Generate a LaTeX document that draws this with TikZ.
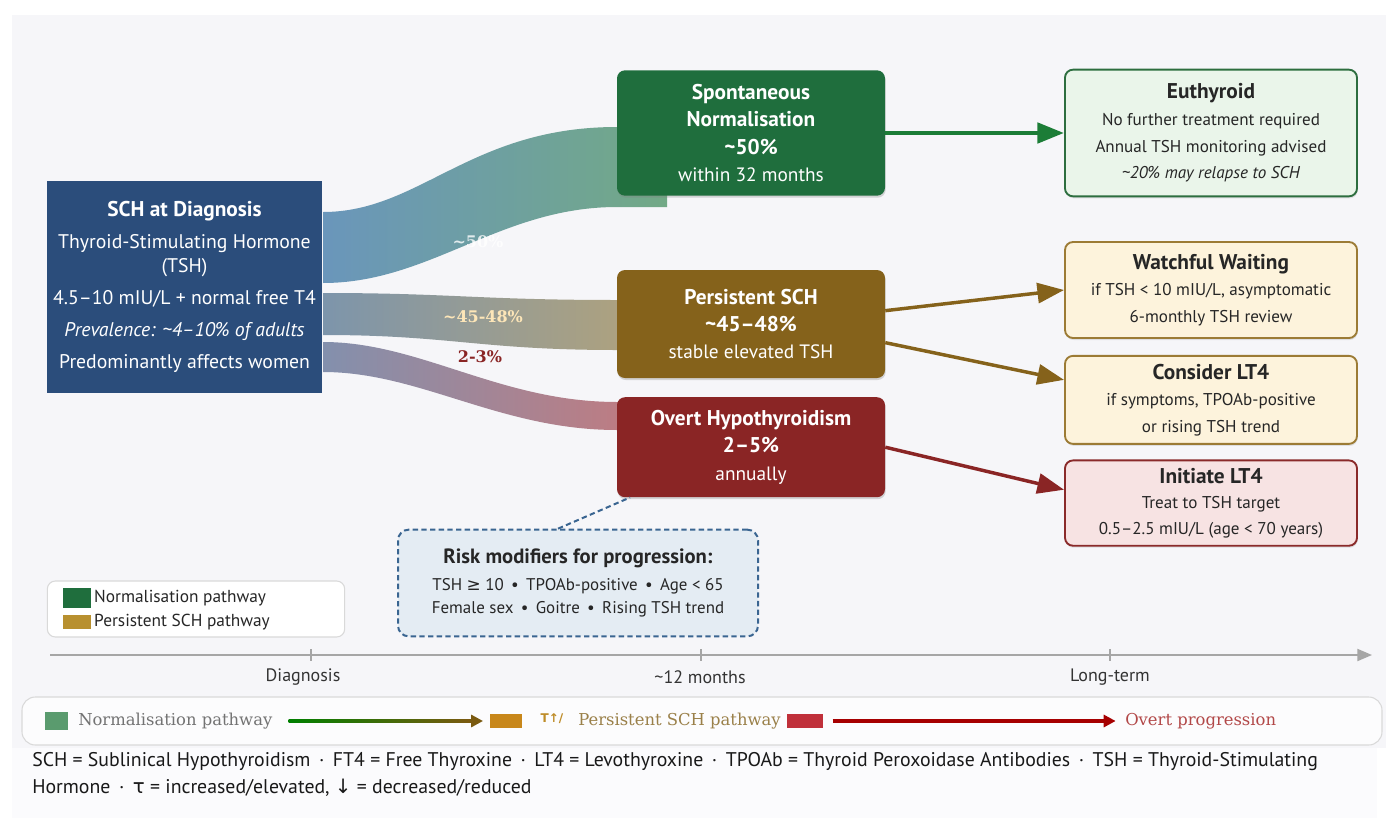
\documentclass[tikz,border=0pt]{standalone}
\usepackage{fontspec}
\setmainfont{PT Sans}
\newfontfamily\serifface{DejaVu Serif}
\newfontfamily\symface{DejaVu Sans}
\usepackage{xcolor}
\usetikzlibrary{arrows.meta, positioning, shadows, calc}

\definecolor{canvas}{HTML}{F6F6F9}
\definecolor{schblue}{HTML}{2B4D7B}
\definecolor{normgreen}{HTML}{1F6E3D}
\definecolor{persbrown}{HTML}{85621B}
\definecolor{overtred}{HTML}{8A2525}
\definecolor{euthfill}{HTML}{EAF5EA}
\definecolor{euthline}{HTML}{2D6E3F}
\definecolor{waitfill}{HTML}{FDF3DC}
\definecolor{waitline}{HTML}{9C7B35}
\definecolor{lt4fill}{HTML}{F7E3E3}
\definecolor{lt4line}{HTML}{8A2A2A}
\definecolor{riskfill}{HTML}{E4ECF3}
\definecolor{riskline}{HTML}{3A6591}
\definecolor{flowblue}{HTML}{6A96BB}
\definecolor{flowgreen}{HTML}{72A986}
\definecolor{flowgrey}{HTML}{7D95AB}
\definecolor{flowkhaki}{HTML}{B3A37A}
\definecolor{flowslate}{HTML}{8390AD}
\definecolor{flowrose}{HTML}{C47A7E}
\definecolor{leggold}{HTML}{B8902F}
\definecolor{keygreen}{HTML}{5A9B6E}
\definecolor{keygold}{HTML}{C8871A}
\definecolor{keyglyph}{HTML}{BE8C28}
\definecolor{keykhaki}{HTML}{9A8049}
\definecolor{keyred}{HTML}{C0303A}
\definecolor{keyredtx}{HTML}{B24848}
\definecolor{keybrown}{HTML}{7A5A10}

\begin{document}
\begin{tikzpicture}[x=0.75pt, y=-0.75pt,
    stage/.style={rectangle, rounded corners=6pt, fill=#1, text=white, minimum width=201pt, align=center,
        font=\fontsize{16}{20.5}\selectfont\bfseries, drop shadow={shadow xshift=0.5pt, shadow yshift=-1.5pt, opacity=0.3}},
    outcome/.style 2 args={rectangle, rounded corners=6pt, draw=#1, line width=1.4pt, fill=#2, minimum width=219pt,
        align=center, text=black!85, font=\fontsize{12.8}{20}\selectfont, drop shadow={shadow xshift=0.5pt, shadow yshift=-1.5pt, opacity=0.2}},
    pathway/.style={draw=#1, line width=2.6pt, -{Triangle[length=20pt,width=15pt]}},
    flowlabel/.style={font=\serifface\bfseries\fontsize{12}{14}\selectfont, text=#1},
    swatch/.style={rectangle, fill=#1, inner sep=0pt},
    keytext/.style={font=\serifface\fontsize{12.3}{14}\selectfont, text=#1, inner sep=0pt, anchor=west}
]
% background
\fill[white] (0,0) rectangle (1386,818);
\fill[canvas] (12,15) rectangle (1386,748);
\fill[white!60!canvas] (12,748) rectangle (1377,818);

% flows out of the diagnosis box
\shade[left color=flowblue, right color=flowgreen] (323,212) .. controls (420,212) and (470,127) .. (617,127) -- (667,127) -- (667,207) -- (617,207) .. controls (500,207) and (430,283) .. (323,283) -- cycle;
\shade[left color=flowgrey, right color=flowkhaki] (323,293) .. controls (450,293) and (480,300) .. (617,300) -- (660,300) -- (660,350) -- (617,350) .. controls (480,350) and (450,335) .. (323,335) -- cycle;
\shade[left color=flowslate, right color=flowrose] (323,342) .. controls (420,342) and (500,402) .. (617,402) -- (660,402) -- (660,430) -- (617,430) .. controls (500,430) and (420,372) .. (323,372) -- cycle;
\node[flowlabel=white, text opacity=0.8] (f50) at (478,242) {\textasciitilde50\%};
\node[flowlabel=yellow!30!orange!25] (f45) at (483,317) {\textasciitilde45-48\%};
\node[flowlabel=overtred] (f2) at (480,357) {2-3\%};

% start box
\node[rectangle, fill=schblue, text=white, minimum width=206pt, minimum height=159pt, align=center,
    font=\fontsize{14.8}{18.5}\selectfont] (sch) at (184.5,287)
    {{\fontsize{16}{18.5}\selectfont\bfseries SCH at Diagnosis}\\[5.5pt]
     Thyroid-Stimulating Hormone\\(TSH)\\[5.5pt]
     4.5–10 mIU/L + normal free T4\\[5.5pt]
     \textit{Prevalence: \textasciitilde4–10\% of adults}\\[5.5pt]
     Predominantly affects women};

% outcomes at about 12 months
\node[stage=normgreen, minimum height=94pt] (spont) at (751,133)
    {Spontaneous\\Normalisation\\\textasciitilde50\%\\{\fontsize{14.5}{20.5}\selectfont\mdseries within 32 months}};
\node[stage=persbrown, minimum height=81pt] (pers) at (751,324)
    {Persistent SCH\\\textasciitilde45–48\%\\{\fontsize{14.5}{20.5}\selectfont\mdseries stable elevated TSH}};
\node[stage=overtred, minimum height=75pt, below=14pt of pers] (overt)
    {Overt Hypothyroidism\\2–5\%\\{\fontsize{14.5}{20.5}\selectfont\mdseries annually}};

% long-term management
\node[outcome={euthline}{euthfill}, minimum height=95pt] (euth) at (1211,133)
    {{\fontsize{16}{20}\selectfont\bfseries Euthyroid}\\No further treatment required\\Annual TSH monitoring advised\\\textit{\textasciitilde20\% may relapse to SCH}};
\node[outcome={waitline}{waitfill}, minimum height=72pt] (watch) at (1211,290)
    {{\fontsize{16}{20}\selectfont\bfseries Watchful Waiting}\\if TSH < 10 mIU/L, asymptomatic\\6-monthly TSH review};
\node[outcome={waitline}{waitfill}, minimum height=66pt, below=12pt of watch] (cons)
    {{\fontsize{16}{19}\selectfont\bfseries Consider LT4}\\if symptoms, TPOAb-positive\\or rising TSH trend};
\node[outcome={lt4line}{lt4fill}, minimum height=64pt, below=11pt of cons, font=\fontsize{12.8}{19}\selectfont] (init)
    {{\fontsize{16}{19}\selectfont\bfseries Initiate LT4}\\Treat to TSH target\\0.5–2.5 mIU/L (age < 70 years)};

\draw[pathway=normgreen!90!green, line width=3.6pt] (spont) -- (euth);
\draw[pathway=persbrown] ([yshift=10pt]pers.east) -- (watch.west);
\draw[pathway=persbrown] ([yshift=-14pt]pers.east) -- ([yshift=15pt]cons.west);
\draw[pathway=overtred] (overt.east) -- ([yshift=10pt]init.west);

% risk modifiers
\node[draw=riskline, line width=1.5pt, dash pattern=on 4pt off 2.5pt, fill=riskfill, rounded corners=8pt,
    minimum width=270pt, minimum height=80pt, align=center, text=black!85, font=\fontsize{12.7}{17}\selectfont] (risk) at (578,583)
    {{\fontsize{15.5}{17}\selectfont\bfseries Risk modifiers for progression:}\\[3pt]
     TSH {\symface ≥} 10 \,•\, TPOAb-positive \,•\, Age < 65\\
     Female sex \,•\, Goitre \,•\, Rising TSH trend};
\draw[riskline, line width=1.5pt, dash pattern=on 4pt off 2.5pt] ([xshift=-15pt]risk.north) -- ([xshift=10pt]overt.south west);

% small legend
\node[draw=black!15, line width=0.8pt, fill=white, rounded corners=6pt, minimum width=223pt, minimum height=42pt] (leg) at (196,609) {};
\node[swatch=normgreen, minimum width=21pt, minimum height=15pt] (lgreen) at (77,598) {};
\node[right=2pt of lgreen, inner sep=0pt, font=\fontsize{13}{14}\selectfont, text=black!85] (lgreentx) {Normalisation pathway};
\node[swatch=leggold, minimum width=21pt, minimum height=10.5pt] (lgold) at (77,622) {};
\node[right=2pt of lgold, inner sep=0pt, font=\fontsize{13}{14}\selectfont, text=black!85] (lgoldtx) {Persistent SCH pathway};

% timeline
\coordinate (tstart) at (50,655);
\coordinate (tend) at (1372,655);
\draw[black!35, line width=1.5pt, -{Triangle[length=11pt,width=9pt]}] (tstart) -- (tend);
\foreach \x/\lx/\lab/\nm in {311/303/Diagnosis/diag, 701/700/\textasciitilde12 months/mid, 1110/1110/Long-term/late} {
    \draw[black!35, line width=1pt] (\x,649) -- (\x,661);
    \node[font=\fontsize{13.5}{16}\selectfont, text=black!80] (t\nm) at (\lx,677) {\lab};
}

% key band
\node[draw=black!15, line width=0.8pt, fill=white!70!canvas, rounded corners=10pt, minimum width=1020pt, minimum height=36pt] (band) at (702,721) {};
\node[swatch=keygreen, minimum width=17pt, minimum height=13.5pt] (nsq) at (56.5,721) {};
\node[keytext=black!55] (nlab) at (78,721) {Normalisation pathway};
\node[swatch=keygold, minimum width=24pt, minimum height=11pt] (psq) at (506,721) {};
\node[font=\symface\bfseries\fontsize{9}{10}\selectfont, text=keyglyph, inner sep=0pt] (pgl) at (552,719) {T↑/};
\node[keytext=keykhaki] (plab) at (578,721) {Persistent SCH pathway};
\node[swatch=keyred, minimum width=27pt, minimum height=11pt] (rsq) at (805,721) {};
\node[keytext=keyredtx] (olab) at (1125,721) {Overt progression};
\draw[keybrown, line width=2.4pt, shorten <=12pt, shorten >=5pt, -{Triangle[length=9pt,width=9pt]}] (nlab) -- (psq);
\shade[left color=green!50!black, right color=keybrown] ($(nlab.east)+(12pt,-1.2pt)$) rectangle ($(psq.west)+(-16pt,1.2pt)$);
\draw[red!65!black, line width=2.4pt, shorten <=7pt, shorten >=7pt, -{Triangle[length=9pt,width=9pt]}] (rsq) -- (olab);

% abbreviations
\node[anchor=north west, align=left, inner sep=0pt, font=\fontsize{14.85}{20}\selectfont, text=black!90] (abbr) at (32,752)
    {SCH = Sublinical Hypothyroidism \,·\, FT4 = Free Thyroxine \,·\, LT4 = Levothyroxine \,·\, TPOAb = Thyroid Peroxoidase Antibodies \,·\, TSH = Thyroid-Stimulating\\
     Hormone \,·\, {\symface τ} = increased/elevated, {\symface ↓} = decreased/reduced};
\end{tikzpicture}
\end{document}
